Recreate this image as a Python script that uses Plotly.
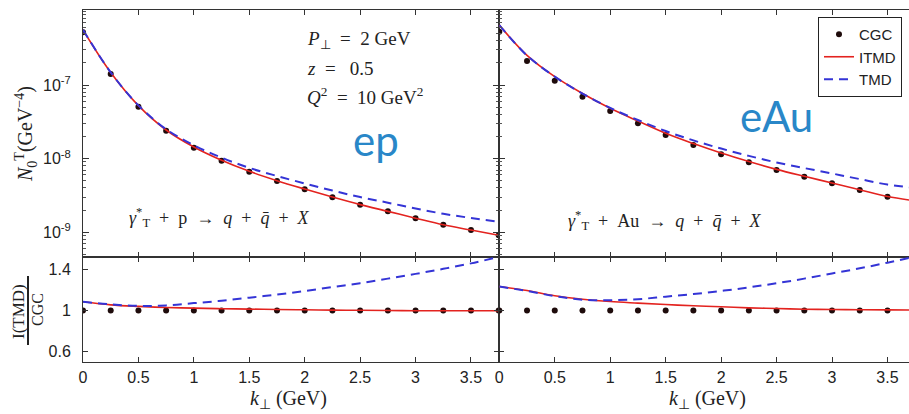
import plotly.graph_objects as go

# ---------------- data ----------------
k = [0.0, 0.25, 0.5, 0.75, 1.0, 1.25, 1.5, 1.75, 2.0, 2.25, 2.5, 2.75, 3.0, 3.25, 3.5, 3.75]

# ep panel (top-left), N0^T in GeV^-4
ep_cgc = [5.2e-7, 1.41e-7, 5.07e-8, 2.39e-8, 1.41e-8, 9.35e-9, 6.63e-9, 4.96e-9,
          3.83e-9, 2.98e-9, 2.36e-9, 1.92e-9, 1.55e-9, 1.26e-9, 1.07e-9, 9.1e-10]
ep_itmd = [5.6e-7, 1.48e-7, 5.25e-8, 2.45e-8, 1.44e-8, 9.5e-9, 6.72e-9, 5.02e-9,
           3.86e-9, 3.0e-9, 2.37e-9, 1.92e-9, 1.55e-9, 1.26e-9, 1.07e-9, 9.1e-10]
ep_tmd = [5.64e-7, 1.49e-7, 5.3e-8, 2.51e-8, 1.52e-8, 1.03e-8, 7.5e-9, 5.8e-9,
          4.6e-9, 3.68e-9, 3.0e-9, 2.52e-9, 2.1e-9, 1.78e-9, 1.56e-9, 1.38e-9]

# eAu panel (top-right)
au_cgc = [5.3e-7, 2.12e-7, 1.14e-7, 6.93e-8, 4.44e-8, 3.02e-8, 2.09e-8, 1.53e-8,
          1.15e-8, 8.9e-9, 7.0e-9, 5.68e-9, 4.62e-9, 3.74e-9, 3.03e-9, 2.66e-9]
au_itmd = [6.53e-7, 2.53e-7, 1.30e-7, 7.69e-8, 4.83e-8, 3.24e-8, 2.21e-8, 1.60e-8,
           1.19e-8, 9.13e-9, 7.14e-9, 5.75e-9, 4.67e-9, 3.77e-9, 3.05e-9, 2.67e-9]
au_tmd = [6.53e-7, 2.52e-7, 1.30e-7, 7.66e-8, 4.88e-8, 3.35e-8, 2.37e-8, 1.77e-8,
          1.37e-8, 1.09e-8, 8.86e-9, 7.44e-9, 6.28e-9, 5.27e-9, 4.44e-9, 4.0e-9]

# ratio panels (bottom): I(TMD)/CGC
ep_r_cgc = [1.0, 1.0, 1.0, 1.0, 1.0, 1.0, 1.0, 1.0, 1.0, 1.0, 1.0, 1.0, 1.0, 1.0, 1.0, 1.0]
ep_r_itmd = [1.085, 1.055, 1.04, 1.03, 1.023, 1.018, 1.014, 1.01, 1.007, 1.004, 1.002,
             1.0, 0.998, 0.998, 0.998, 0.998]
ep_r_tmd = [1.085, 1.06, 1.045, 1.05, 1.072, 1.095, 1.125, 1.155, 1.19, 1.228, 1.266,
            1.31, 1.356, 1.405, 1.458, 1.52]
au_r_cgc = [1.0, 1.0, 1.0, 1.0, 1.0, 1.0, 1.0, 1.0, 1.0, 1.0, 1.0, 1.0, 1.0, 1.0, 1.0, 1.0]
au_r_itmd = [1.233, 1.194, 1.143, 1.11, 1.087, 1.072, 1.058, 1.046, 1.036, 1.026, 1.02,
             1.013, 1.01, 1.008, 1.006, 1.005]
au_r_tmd = [1.233, 1.19, 1.14, 1.105, 1.10, 1.11, 1.135, 1.16, 1.19, 1.225, 1.265,
            1.31, 1.36, 1.41, 1.465, 1.525]

x_ticks = [0, 0.5, 1, 1.5, 2, 2.5, 3, 3.5]
x_tick_text = ["0", "0.5", "1", "1.5", "2", "2.5", "3", "3.5"]
log_ticks = [1e-9, 1e-8, 1e-7]
log_tick_text = ["10<sup>-9</sup>", "10<sup>-8</sup>", "10<sup>-7</sup>"]
r_ticks = [0.6, 1, 1.4]
r_tick_text = ["0.6", "1", "1.4"]

# ---------------- styling ----------------
RED = "#e3231f"
BLUE = "#3434d6"
DOT = "#1e0b0b"
TXT = "#222222"
SERIF = "Liberation Serif"
SANS = "Liberation Sans"
TAG = "#2987c8"

W, H = 909, 414
L, R, T, B = 83, 909, 10, 362
SPLIT_X = 498.7
SPLIT_Y = 257


def px(x):
    return (x - L) / (R - L)


def py(y):
    return (B - y) / (B - T)


fig = go.Figure()


def add_panel(xa, ya, cgc, itmd, tmd, show):
    fig.add_trace(go.Scatter(x=k, y=cgc, mode="markers", name="CGC",
                             marker=dict(color=DOT, size=6), xaxis=xa, yaxis=ya,
                             showlegend=show, legendgroup="cgc"))
    fig.add_trace(go.Scatter(x=k, y=itmd, mode="lines", name="ITMD",
                             line=dict(color=RED, width=1.6, shape="spline"),
                             xaxis=xa, yaxis=ya, showlegend=show, legendgroup="itmd"))
    fig.add_trace(go.Scatter(x=k, y=tmd, mode="lines", name="TMD",
                             line=dict(color=BLUE, width=2, dash="9px,6px", shape="spline"),
                             xaxis=xa, yaxis=ya, showlegend=show, legendgroup="tmd"))


add_panel("x", "y", ep_cgc, ep_itmd, ep_tmd, True)
add_panel("x2", "y2", au_cgc, au_itmd, au_tmd, False)
add_panel("x3", "y3", ep_r_cgc, ep_r_itmd, ep_r_tmd, False)
add_panel("x4", "y4", au_r_cgc, au_r_itmd, au_r_tmd, False)

left_dom = [0, px(SPLIT_X)]
right_dom = [px(SPLIT_X + 0.6), 1]
top_dom = [py(SPLIT_Y), 1]
bot_dom = [0, py(SPLIT_Y)]

xcommon = dict(tickvals=x_ticks, ticktext=x_tick_text, ticks="inside", ticklen=5,
               tickcolor="#333", showline=True, linecolor="#333", linewidth=1,
               mirror="allticks", showgrid=False, zeroline=False, automargin=False,
               tickfont=dict(family=SANS, size=16, color=TXT), ticklabelstandoff=1)

ylog = dict(type="log", range=[-9.337, -5.98], tickvals=log_ticks, ticktext=log_tick_text,
            ticks="inside", ticklen=6, tickcolor="#333",
            showline=True, linecolor="#333", linewidth=1, showgrid=False, zeroline=False,
            automargin=False,
            minor=dict(ticks="inside", ticklen=3, dtick="D1", tickcolor="#555", showgrid=False),
            tickfont=dict(family=SANS, size=16, color=TXT), ticklabelstandoff=8)

ylin = dict(range=[0.5, 1.52], tickvals=r_ticks, ticktext=r_tick_text, ticks="inside",
            ticklen=5, tickcolor="#333", showline=True, linecolor="#333", linewidth=1,
            showgrid=False, zeroline=False, automargin=False,
            tickfont=dict(family=SANS, size=16, color=TXT), ticklabelstandoff=8)

fig.update_layout(
    template="none",
    width=W, height=H,
    margin=dict(l=L, r=W - R, t=T, b=H - B, pad=0, autoexpand=False),
    paper_bgcolor="white", plot_bgcolor="white",
    showlegend=True,
    legend=dict(x=px(818), y=py(17), xanchor="left", yanchor="top",
                bgcolor="white", bordercolor="#222", borderwidth=1,
                font=dict(family=SANS, size=15, color=TXT),
                itemwidth=30, tracegroupgap=0),
    xaxis=dict(domain=left_dom, anchor="y", range=[0, 3.75], showticklabels=False, **xcommon),
    xaxis2=dict(domain=right_dom, anchor="y2", range=[0, 3.694], showticklabels=False, **xcommon),
    xaxis3=dict(domain=left_dom, anchor="y3", range=[0, 3.75], showticklabels=True, **xcommon),
    xaxis4=dict(domain=right_dom, anchor="y4", range=[0, 3.694], showticklabels=True, **xcommon),
    yaxis=dict(domain=top_dom, anchor="x", mirror="allticks", showticklabels=True, **ylog),
    yaxis2=dict(domain=top_dom, anchor="x2", mirror=False, showticklabels=False, **ylog),
    yaxis3=dict(domain=bot_dom, anchor="x3", mirror="allticks", showticklabels=True, **ylin),
    yaxis4=dict(domain=bot_dom, anchor="x4", mirror=False, showticklabels=False, **ylin),
)

ann = []


def text(x, y, s, size, family=SERIF, color=TXT, xanchor="center", angle=0):
    ann.append(dict(x=px(x), y=py(y), xref="paper", yref="paper", text=s, showarrow=False,
                    xanchor=xanchor, yanchor="middle", textangle=angle,
                    font=dict(family=family, size=size, color=color)))


SP = "\u2002"
QBAR = "<i>q̄</i>"
# parameter block
text(305, 40, "<i>P</i><sub>⊥</sub>" + SP + "=" + SP + "2 GeV", 19, xanchor="left")
text(305, 68, "<i>z</i>" + SP + "=" + SP + " 0.5", 19, xanchor="left")
text(305, 96, "<i>Q</i><sup>2</sup>" + SP + "=" + SP + "10 GeV<sup>2</sup>", 19, xanchor="left")

# process labels
text(127, 217, "<i>γ</i><sup>*</sup><sub>T</sub>" + SP + "+" + SP + "p" + SP + "→" + SP + "<i>q</i>"
     + SP + "+" + SP + QBAR + SP + "+" + SP + "<i>X</i>", 18, xanchor="left")
text(566, 220, "<i>γ</i><sup>*</sup><sub>T</sub>" + SP + "+" + SP + "Au" + SP + "→" + SP + "<i>q</i>"
     + SP + "+" + SP + QBAR + SP + "+" + SP + "<i>X</i>", 18, xanchor="left")

# big tags
text(376, 140, "ep", 42, family="Lato", color=TAG)
text(776, 116, "eAu", 42, family="Lato", color=TAG)

# axis titles
text(288, 399, "<i>k</i><sub>⊥</sub> (GeV)", 20)
text(707, 399, "<i>k</i><sub>⊥</sub> (GeV)", 20)
text(26, 134, "<i>N</i><sub>0</sub><sup>T</sup>(GeV<sup>−4</sup>)", 20, angle=-90)
text(18, 312, "I(TMD)", 17, angle=-90)
text(37, 310, "CGC", 16, angle=-90)

fig.update_layout(annotations=ann)

# fraction bar of the ratio-axis title
fig.add_shape(type="line", xref="paper", yref="paper", x0=px(28), x1=px(28),
              y0=py(276), y1=py(345), line=dict(color="#222", width=2))

fig.write_html("out.html", config={"displayModeBar": False})

# remove the default page margin so the figure sits at the window's top-left corner
with open("out.html", "r", encoding="utf-8") as f:
    html = f.read()
html = html.replace("<body>", '<body style="margin:0;padding:0;overflow:hidden">', 1)
with open("out.html", "w", encoding="utf-8") as f:
    f.write(html)
